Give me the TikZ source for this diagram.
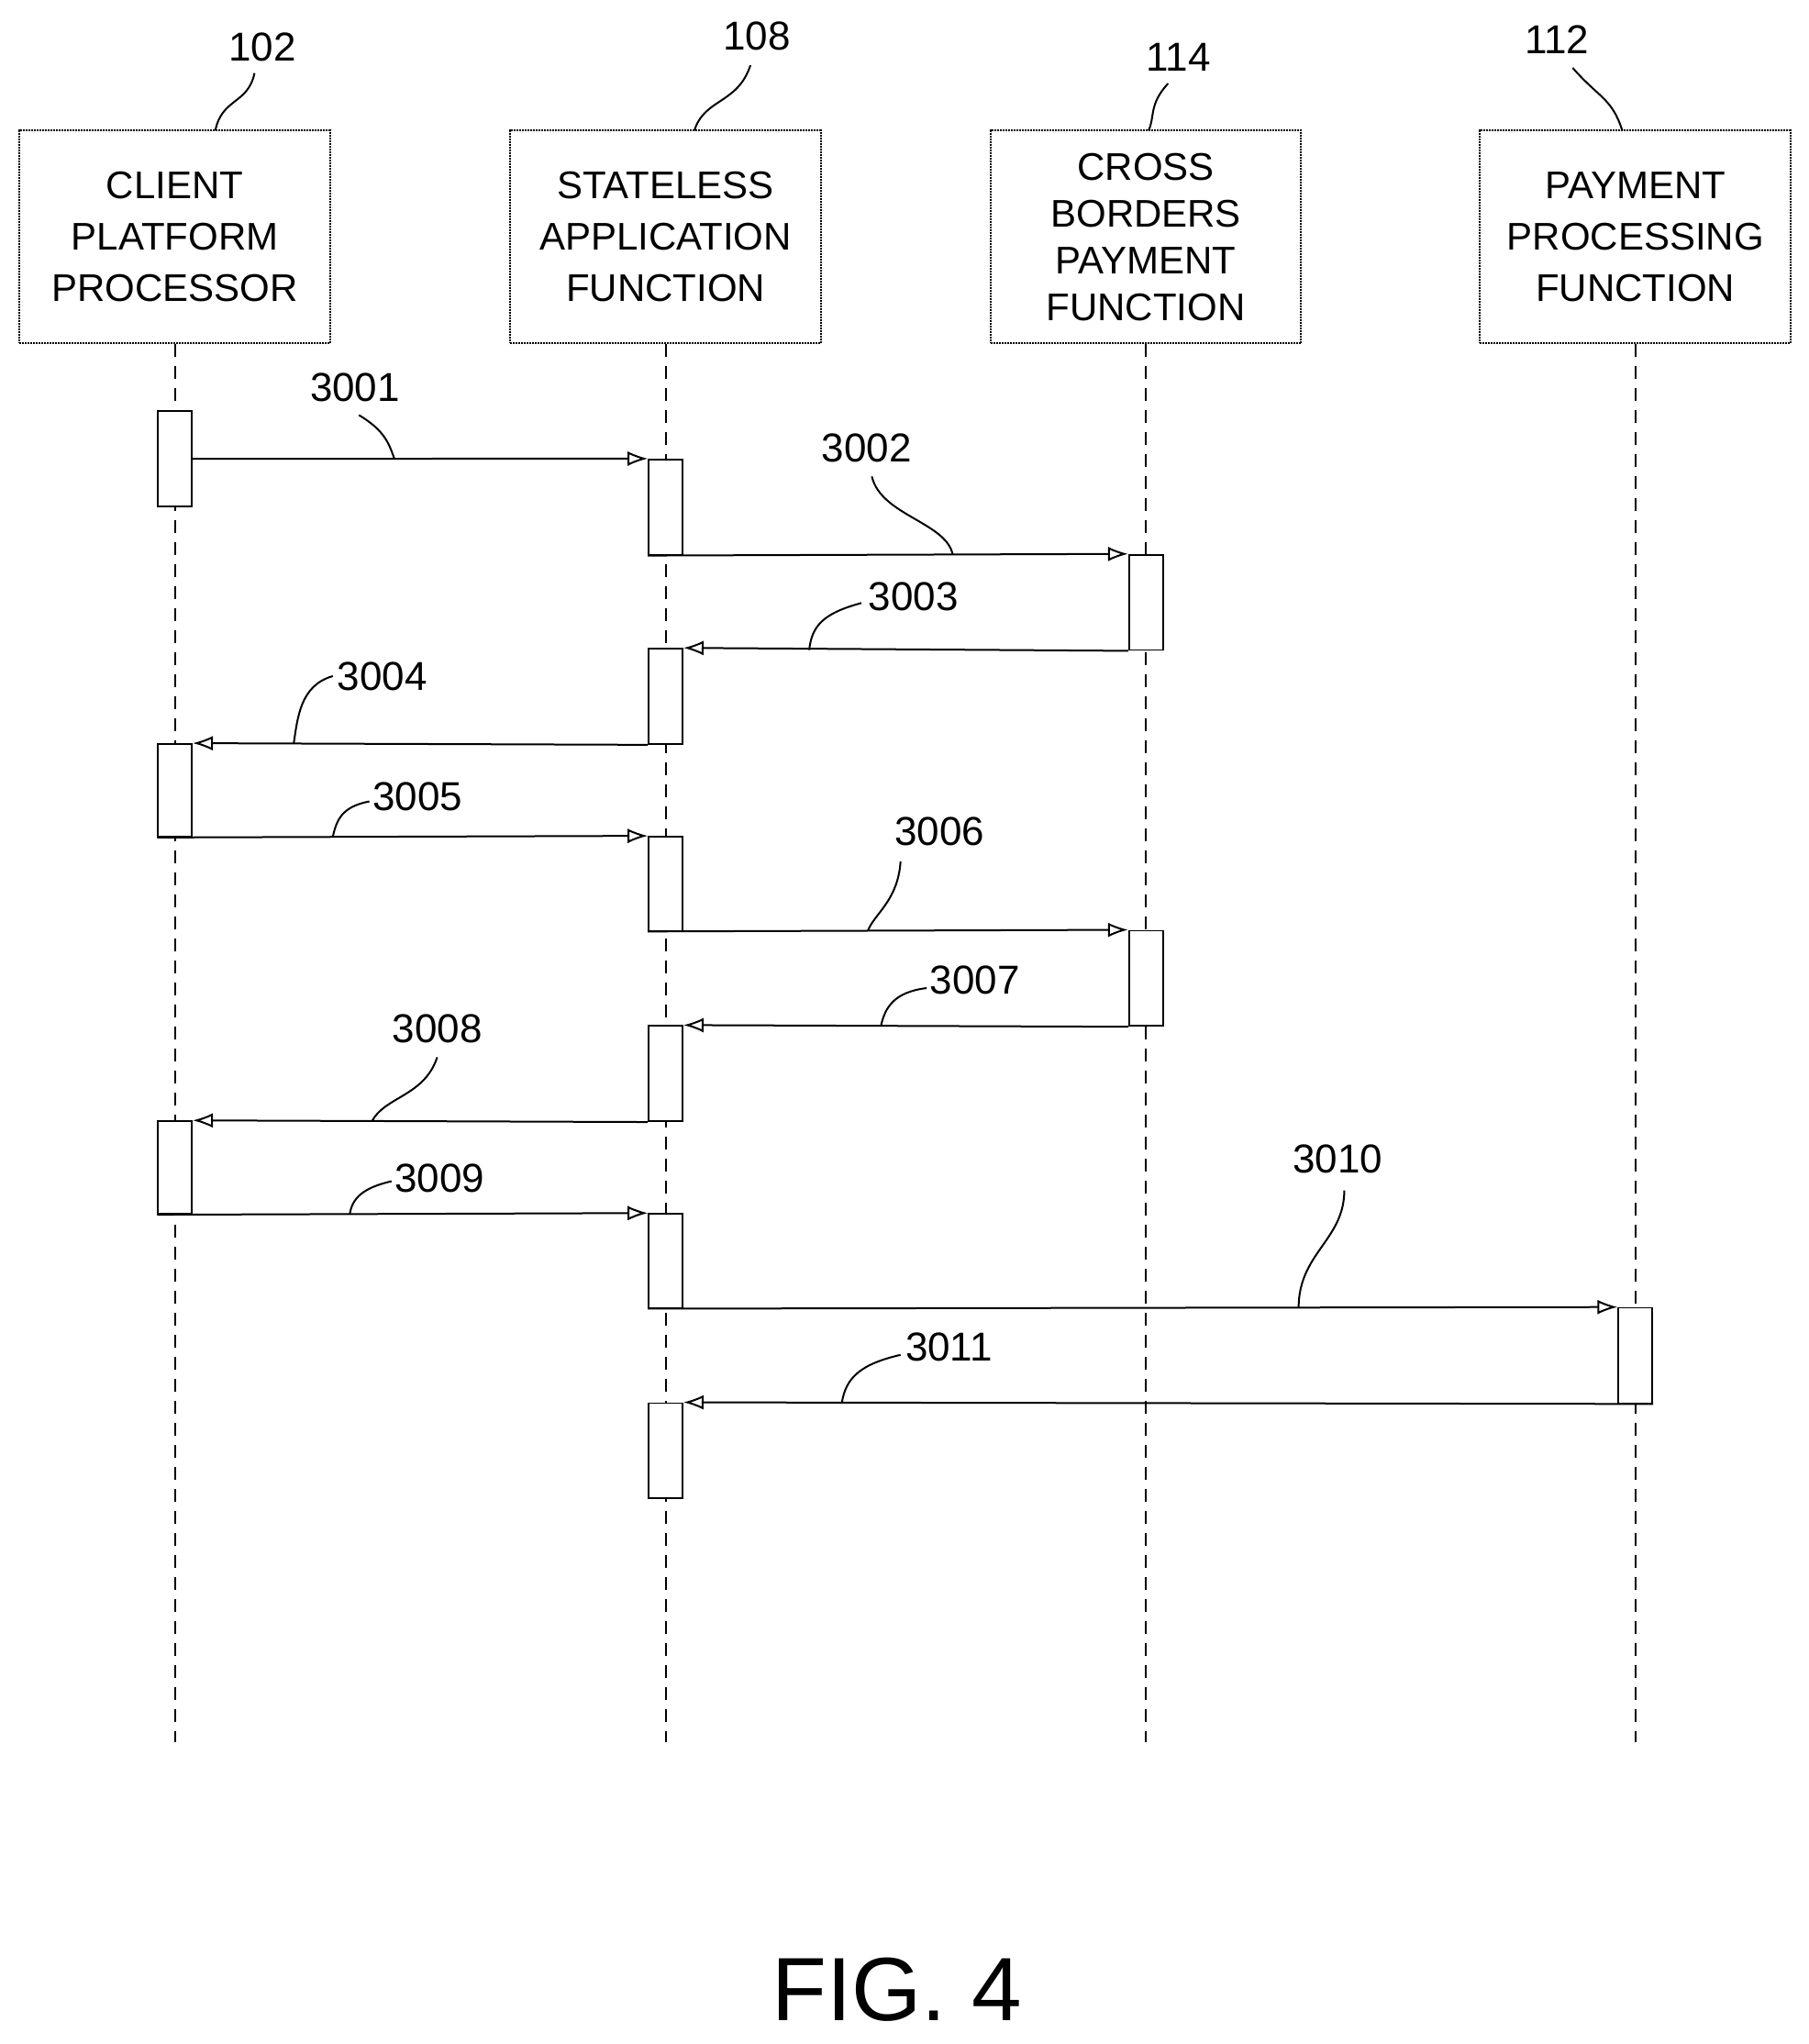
\documentclass[tikz,border=0pt]{standalone}
\usepackage{fontspec}
\setmainfont{Liberation Sans}
\usetikzlibrary{arrows.meta}
\begin{document}
\begin{tikzpicture}[x=0.05cm,y=-0.05cm,
  box/.style={draw,line width=2pt,densely dotted,minimum width=11.9cm,minimum height=8.15cm,align=center,font=\fontsize{42}{56}\selectfont,inner sep=0pt},
  act/.style={draw,line width=1.8pt,fill=white,minimum width=1.3cm,inner sep=0pt},
  life/.style={line width=2pt,dash pattern=on 14pt off 10pt},
  msg/.style={line width=2pt,-{Latex[length=22pt,width=16pt,open]}},
  lab/.style={font=\fontsize{44}{50}\selectfont,inner sep=2pt},
  lead/.style={line width=2pt}]
\useasboundingbox (0,0) rectangle (1386,1566);
\node[box] (b1) at (134,181.5) {CLIENT\\PLATFORM\\PROCESSOR};
\node[box] (b2) at (510,181.5) {STATELESS\\APPLICATION\\FUNCTION};
\node[box,font=\fontsize{42}{51}\selectfont] (b3) at (878,181.5) {CROSS\\BORDERS\\PAYMENT\\FUNCTION};
\node[box] (b4) at (1253,181.5) {PAYMENT\\PROCESSING\\FUNCTION};
\coordinate (e1) at (134,1335);\coordinate (e2) at (510,1335);
\coordinate (e3) at (878,1335);\coordinate (e4) at (1253,1335);
\foreach \i in {1,...,4} \draw[life] (b\i.south) -- (e\i);
\node[lab] (n102) at (201,36) {102};
\node[lab] (n108) at (580,28) {108};
\node[lab] (n114) at (903,44) {114};
\node[lab] (n112) at (1193,30) {112};
\draw[lead] (195,56) .. controls (190,80) and (170,75) .. (165,100);
\draw[lead] (575,50) .. controls (565,80) and (540,75) .. (532,100);
\draw[lead] (895,64) .. controls (880,80) and (885,90) .. (880,100);
\draw[lead] (1205,52) .. controls (1225,75) and (1235,75) .. (1243,100);
% activations
\def\A#1#2#3#4{\node[act,minimum height={(#4-#3)*0.05cm}] (#1) at (#2,{(#3+#4)/2}) {};}
\A{a1}{134}{315}{388}
\A{a2}{510}{352}{425}
\A{a3}{878}{425}{498}
\A{a4}{510}{497}{570}
\A{a5}{134}{570}{641}
\A{a6}{510}{641}{713}
\A{a7}{878}{713}{786}
\A{a8}{510}{786}{859}
\A{a9}{134}{859}{930}
\A{a10}{510}{930}{1002}
\A{a11}{1253}{1002}{1075}
\A{a12}{510}{1075}{1148}
\draw[msg] (a1.east) -- (a2.north west);
\draw[msg] (a2.south west) -- (a3.north west);
\draw[msg] (a3.south west) -- (a4.north east);
\draw[msg] (a4.south west) -- (a5.north east);
\draw[msg] (a5.south west) -- (a6.north west);
\draw[msg] (a6.south west) -- (a7.north west);
\draw[msg] (a7.south west) -- (a8.north east);
\draw[msg] (a8.south west) -- (a9.north east);
\draw[msg] (a9.south west) -- (a10.north west);
\draw[msg] (a10.south west) -- (a11.north west);
\draw[msg] (a11.south east) -- (a12.north east);
\node[lab] (m1) at (272,297) {3001};
\node[lab] (m2) at (664,343) {3002};
\node[lab] (m3) at (700,457) {3003};
\node[lab] (m4) at (293,518) {3004};
\node[lab] (m5) at (320,610) {3005};
\node[lab] (m6) at (720,637) {3006};
\node[lab] (m7) at (747,751) {3007};
\node[lab] (m8) at (335,788) {3008};
\node[lab] (m9) at (337,903) {3009};
\node[lab] (m10) at (1025,888) {3010};
\node[lab] (m11) at (727,1032) {3011};
\draw[lead] (275,318) .. controls (295,330) and (298,340) .. (302,351);
\draw[lead] (668,365) .. controls (675,395) and (725,400) .. (730,425);
\draw[lead] (660,462) .. controls (630,470) and (622,480) .. (620,498);
\draw[lead] (255,518) .. controls (230,525) and (228,550) .. (225,570);
\draw[lead] (283,614) .. controls (262,618) and (258,628) .. (255,641);
\draw[lead] (690,660) .. controls (688,690) and (670,700) .. (665,713);
\draw[lead] (710,757) .. controls (685,760) and (678,772) .. (675,786);
\draw[lead] (335,810) .. controls (325,840) and (295,840) .. (285,859);
\draw[lead] (300,905) .. controls (278,910) and (270,918) .. (268,930);
\draw[lead] (1030,912) .. controls (1030,950) and (995,960) .. (995,1002);
\draw[lead] (690,1038) .. controls (660,1045) and (648,1055) .. (645,1075);
\node[font=\fontsize{98}{110}\selectfont] (fig) at (687,1524) {FIG. 4};
\end{tikzpicture}
\end{document}
